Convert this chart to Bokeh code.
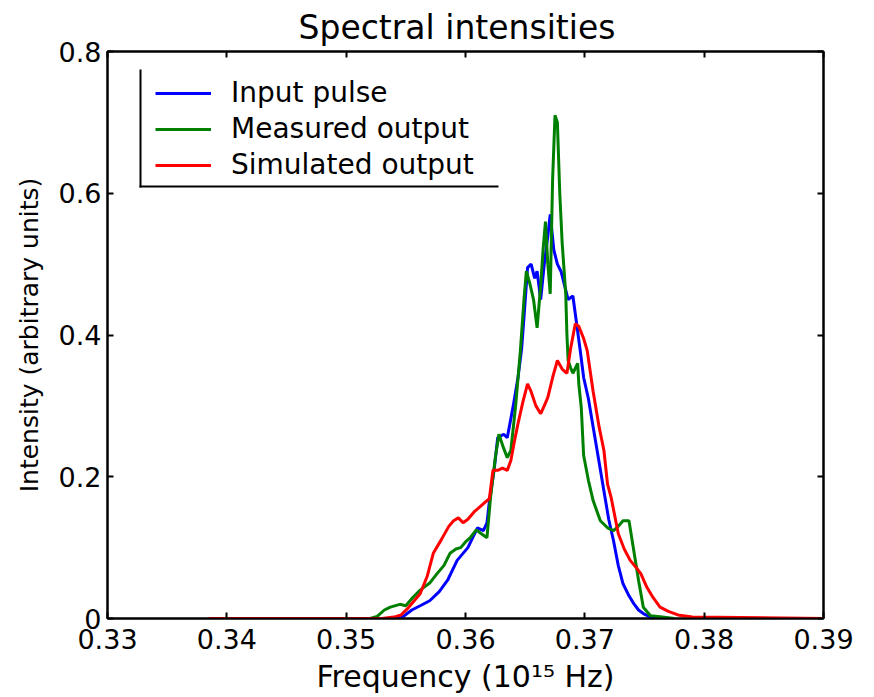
from bokeh.plotting import figure
from bokeh.models import (FixedTicker, LinearAxis, Range1d, Legend, LegendItem,
                          BoxAnnotation)
from bokeh.embed import file_html
from bokeh.resources import INLINE

# ---------------- data ----------------
blue_x = [0.3540, 0.3548, 0.3555, 0.3562, 0.3570, 0.3578, 0.3585, 0.3593, 0.3602,
          0.3610, 0.3615, 0.3618, 0.3620, 0.3624, 0.3627, 0.3632, 0.3635, 0.3640,
          0.3644, 0.3647, 0.3649, 0.3652, 0.3655, 0.3658, 0.3660, 0.3663, 0.3666,
          0.3669, 0.3671, 0.3674, 0.3677, 0.3680, 0.3683, 0.3686, 0.3690, 0.3692,
          0.3696, 0.3699, 0.3703, 0.3707, 0.3712, 0.3716, 0.3720, 0.3724, 0.3728,
          0.3732, 0.3737, 0.3741, 0.3745, 0.3749, 0.3755, 0.3760]
blue_y = [0.000, 0.003, 0.012, 0.018, 0.025, 0.038, 0.054, 0.082, 0.100,
          0.128, 0.124, 0.135, 0.165, 0.210, 0.255, 0.260, 0.255, 0.300,
          0.340, 0.380, 0.425, 0.495, 0.500, 0.480, 0.490, 0.450, 0.500,
          0.540, 0.570, 0.520, 0.500, 0.490, 0.470, 0.450, 0.455, 0.430,
          0.380, 0.340, 0.310, 0.270, 0.220, 0.180, 0.140, 0.110, 0.075,
          0.049, 0.032, 0.021, 0.012, 0.007, 0.002, 0.000]

green_x = [0.3520, 0.3526, 0.3532, 0.3537, 0.3545, 0.3550, 0.3556, 0.3562, 0.3570,
           0.3576, 0.3582, 0.3587, 0.3592, 0.3596, 0.3600, 0.3604, 0.3609, 0.3613,
           0.3618, 0.3621, 0.3625, 0.3628, 0.3632, 0.3635, 0.3638, 0.3642, 0.3646,
           0.3649, 0.3651, 0.3654, 0.3657, 0.3660, 0.3663, 0.3665, 0.3667, 0.3669,
           0.3671, 0.3673, 0.3675, 0.3677, 0.3679, 0.3681, 0.3684, 0.3685, 0.3686,
           0.3688, 0.3690, 0.3694, 0.3695, 0.3697, 0.3699, 0.3703, 0.3707, 0.3713,
           0.3719, 0.3724, 0.3728, 0.3732, 0.3737, 0.3741, 0.3745, 0.3749, 0.3755,
           0.3765, 0.3775]
green_y = [0.000, 0.003, 0.012, 0.016, 0.020, 0.018, 0.030, 0.040, 0.050,
           0.063, 0.075, 0.092, 0.098, 0.100, 0.108, 0.114, 0.125, 0.120,
           0.114, 0.171, 0.227, 0.260, 0.240, 0.227, 0.237, 0.300, 0.378,
           0.450, 0.490, 0.472, 0.450, 0.410, 0.470, 0.520, 0.560, 0.500,
           0.458, 0.620, 0.710, 0.700, 0.600, 0.530, 0.458, 0.400, 0.364,
           0.354, 0.346, 0.360, 0.330, 0.298, 0.230, 0.195, 0.166, 0.138,
           0.128, 0.124, 0.130, 0.138, 0.138, 0.096, 0.054, 0.016, 0.004,
           0.002, 0.000]

red_x = [0.3385, 0.3530, 0.3540, 0.3546, 0.3552, 0.3557, 0.3562, 0.3568, 0.3573,
         0.3580, 0.3586, 0.3590, 0.3594, 0.3598, 0.3602, 0.3607, 0.3613, 0.3617,
         0.3620, 0.3623, 0.3627, 0.3631, 0.3635, 0.3638, 0.3641, 0.3644, 0.3648,
         0.3652, 0.3655, 0.3659, 0.3663, 0.3666, 0.3669, 0.3673, 0.3677, 0.3681,
         0.3685, 0.3688, 0.3692, 0.3695, 0.3699, 0.3702, 0.3707, 0.3712, 0.3716,
         0.3719, 0.3722, 0.3728, 0.3733, 0.3738, 0.3743, 0.3747, 0.3752, 0.3757,
         0.3763, 0.3770, 0.3778, 0.3790, 0.3900]
red_y = [0.000, 0.000, 0.002, 0.005, 0.015, 0.025, 0.035, 0.060, 0.092,
         0.112, 0.130, 0.138, 0.142, 0.135, 0.140, 0.150, 0.159, 0.165,
         0.169, 0.209, 0.209, 0.212, 0.209, 0.223, 0.250, 0.275, 0.305,
         0.331, 0.320, 0.300, 0.289, 0.300, 0.312, 0.340, 0.364, 0.352,
         0.346, 0.380, 0.416, 0.412, 0.395, 0.378, 0.320, 0.270, 0.237,
         0.190, 0.171, 0.120, 0.098, 0.082, 0.072, 0.063, 0.044, 0.030,
         0.016, 0.010, 0.005, 0.002, 0.000]

x_ticks = [0.33, 0.34, 0.35, 0.36, 0.37, 0.38, 0.39]
x_tick_labels = ["0.33", "0.34", "0.35", "0.36", "0.37", "0.38", "0.39"]
y_ticks = [0.0, 0.2, 0.4, 0.6, 0.8]
y_tick_labels = ["0", "0.2", "0.4", "0.6", "0.8"]

series_names = ["Input pulse", "Measured output", "Simulated output"]
series_colors = ["#0000ff", "#008000", "#ff0000"]

FONT = "DejaVu Sans"

p = figure(width=874, height=697, output_backend="svg", toolbar_location=None,
           x_range=Range1d(0.33, 0.39), y_range=Range1d(0, 0.8),
           min_border_left=107, min_border_right=51, min_border_top=51,
           min_border_bottom=79, title="Spectral intensities")

p.title.text_font = FONT
p.title.text_font_size = "33px"
p.title.text_font_style = "normal"
p.title.align = "left"
p.title.offset = 191
p.title.text_color = "black"
p.title.standoff = 10

p.xgrid.visible = False
p.ygrid.visible = False
p.outline_line_color = "black"
p.outline_line_width = 2
p.background_fill_color = "white"
p.border_fill_color = "white"

xt = FixedTicker(ticks=x_ticks)
yt = FixedTicker(ticks=y_ticks)

def style_axis(ax, ticker, labels, show_labels):
    ax.ticker = ticker
    if show_labels:
        ax.major_label_overrides = {t: l for t, l in zip(ticker.ticks, labels)}
    else:
        ax.major_label_overrides = {t: "" for t in ticker.ticks}
    ax.major_tick_in = 6
    ax.major_tick_out = 0
    ax.minor_tick_line_color = None
    ax.axis_line_width = 2
    ax.major_tick_line_width = 2
    ax.major_label_text_font = FONT
    ax.major_label_text_font_size = "27px"
    ax.major_label_text_color = "black"
    ax.major_label_standoff = 6 if show_labels else 0

style_axis(p.xaxis[0], xt, x_tick_labels, True)
style_axis(p.yaxis[0], yt, y_tick_labels, True)
p.xaxis[0].major_label_standoff = 10
p.xaxis[0].axis_label = "Frequency (10\u00b9\u2075 Hz)"
p.yaxis[0].axis_label = "Intensity (arbitrary units)"
p.xaxis[0].axis_label_text_font_size = "30px"
p.yaxis[0].axis_label_text_font_size = "25px"
p.xaxis[0].axis_label_standoff = 7
p.yaxis[0].axis_label_standoff = 12
for ax in (p.xaxis[0], p.yaxis[0]):
    ax.axis_label_text_font = FONT
    ax.axis_label_text_font_style = "normal"
    ax.axis_label_text_color = "black"

top_ax = LinearAxis()
right_ax = LinearAxis()
style_axis(top_ax, xt, x_tick_labels, False)
style_axis(right_ax, yt, y_tick_labels, False)
p.add_layout(top_ax, "above")
p.add_layout(right_ax, "right")

renderers = []
for xs, ys, c in zip([blue_x, green_x, red_x], [blue_y, green_y, red_y], series_colors):
    r = p.line(xs, ys, line_color=c, line_width=3)
    renderers.append(r)

legend = Legend(items=[LegendItem(label=n, renderers=[r]) for n, r in zip(series_names, renderers)],
                location=(48, 437), border_line_color=None, background_fill_alpha=0,
                padding=9, spacing=3, glyph_width=56, glyph_height=28, label_height=28,
                label_standoff=20, label_text_font=FONT, label_text_font_size="28px",
                label_text_color="black")
p.add_layout(legend, "center")

# legend frame (left and bottom edges only, as in the original)
p.add_layout(BoxAnnotation(left=32, right=34, bottom=431, top=549,
                           left_units="screen", right_units="screen",
                           top_units="screen", bottom_units="screen",
                           fill_color="black", fill_alpha=1, line_color=None))
p.add_layout(BoxAnnotation(left=32, right=391, bottom=431, top=433,
                           left_units="screen", right_units="screen",
                           top_units="screen", bottom_units="screen",
                           fill_color="black", fill_alpha=1, line_color=None))

open("out.html", "w").write(file_html(p, INLINE))
